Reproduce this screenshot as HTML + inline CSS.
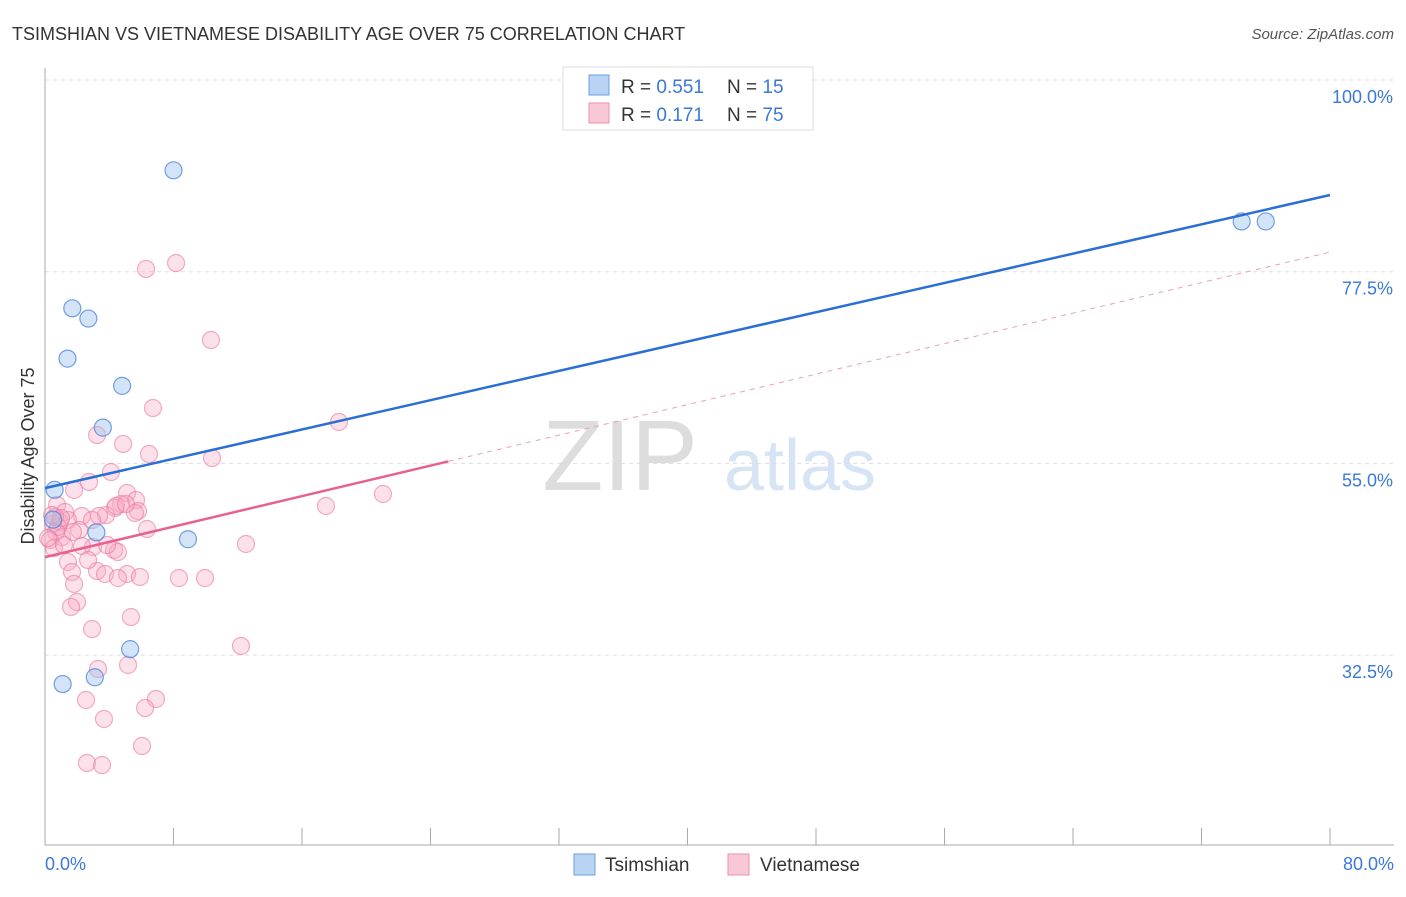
<!DOCTYPE html>
<html><head><meta charset="utf-8"><style>
body{margin:0;background:#fff;font-family:"Liberation Sans",sans-serif;}
svg text{font-family:"Liberation Sans",sans-serif;}
</style></head><body>
<svg width="1406" height="892" viewBox="0 0 1406 892">
<text x="12" y="40" font-size="18" fill="#333">TSIMSHIAN VS VIETNAMESE DISABILITY AGE OVER 75 CORRELATION CHART</text>
<text x="1394" y="39" font-size="15" fill="#555" text-anchor="end" font-style="italic">Source: ZipAtlas.com</text>
<g>
<text x="620" y="490" font-size="100" fill="#ddd" text-anchor="middle" font-family="Liberation Serif,serif">ZIP</text>
<text x="800" y="490" font-size="72" fill="#d6e4f5" text-anchor="middle">atlas</text>
</g>
<g id="grid"></g>
<g id="axes"></g>
<g id="marks"></g>
<text transform="translate(34,456) rotate(-90)" font-size="18" fill="#333" text-anchor="middle">Disability Age Over 75</text>
<g>
<rect x="563" y="67" width="250" height="63" fill="#fff" stroke="#ddd"/>
<rect x="589" y="75" width="20" height="20" fill="#b9d3f3" stroke="#6a9fe0"/>
<rect x="589" y="103" width="20" height="20" fill="#f9c8d7" stroke="#ef8fae"/>
<text x="621" y="93" font-size="19" fill="#333">R = <tspan fill="#3b78d8">0.551</tspan></text>
<text x="727" y="93" font-size="19" fill="#333">N = <tspan fill="#3b78d8">15</tspan></text>
<text x="621" y="121" font-size="19" fill="#333">R = <tspan fill="#3b78d8"> 0.171</tspan></text>
<text x="727" y="121" font-size="19" fill="#333">N = <tspan fill="#3b78d8">75</tspan></text>
</g>
<g>
<rect x="574" y="854" width="21" height="21" fill="#b9d3f3" stroke="#6a9fe0"/>
<text x="605" y="871" font-size="19" fill="#333">Tsimshian</text>
<rect x="728" y="854" width="21" height="21" fill="#f9c8d7" stroke="#ef8fae"/>
<text x="760" y="871" font-size="19" fill="#333">Vietnamese</text>
</g>
</svg>
<script>
const yTicks=[100,77.5,55,32.5];
const yTickLabels=["100.0%","77.5%","55.0%","32.5%"];
const xTickLabels=["0.0%","80.0%"];
const tsimX=[0.5,8.0,1.7,2.7,1.4,4.8,3.6,0.6,3.2,8.9,5.3,1.1,3.1,74.5,76.0];
const tsimY=[48.4,89.4,73.2,72.0,67.3,64.1,59.2,51.9,46.9,46.1,33.2,29.1,29.9,83.4,83.4];
const vietPx=[146,176,211,153,339,97,123,149,212,111,89,74,127,136,383,326,57,121,115,138,106,99,82,65,60,53,68,147,79,56,62,50,54,93,114,118,82,246,97,68,72,105,127,118,140,179,205,74,77,71,92,131,241,98,128,156,145,86,104,142,87,102,64,58,55,48,52,61,107,116,73,92,135,126,88];
const vietPy=[269,263,340,408,422,435,444,454,458,472,482,490,493,500,494,506,505,504,508,511,515,516,516,512,522,524,520,529,530,532,537,540,548,547,550,552,546,544,571,562,572,574,574,578,577,578,578,584,602,607,629,617,646,669,665,699,708,700,719,746,763,765,545,527,517,538,515,518,545,506,532,520,513,504,560];
const vietX=vietPx.map(p=>+((p-45)/1285*80).toFixed(2));
const vietY=vietPy.map(p=>+(100-(p-80)/8.52).toFixed(2));
const tsimTrend=[52.1,86.5];
const vietTrend=[44.0,79.8];
const vietSolidEnd=25.1;

const X=v=>45+v/80*1285;
const Y=v=>80+(100-v)*8.52;
const NS="http://www.w3.org/2000/svg";
function mk(parent,tag,attrs){const e=document.createElementNS(NS,tag);for(const k in attrs)e.setAttribute(k,attrs[k]);document.getElementById(parent).appendChild(e);return e;}

yTicks.forEach((t,i)=>{
 const l=mk('grid','line',{x1:45,x2:1394,y1:Y(t),y2:Y(t),stroke:'#ddd','stroke-dasharray':'4,4'});
 
 
 const tx=mk('grid','text',{x:1393,y:Y(t)+23,'font-size':18,fill:'#3b78d8','text-anchor':'end'});
 tx.textContent=yTickLabels[i];
 
 
});
const ax=mk('axes','line',{x1:45,x2:1394,y1:845,y2:845,stroke:'#aaa'});


const ay=mk('axes','line',{x1:45,x2:45,y1:68,y2:845,stroke:'#aaa'});


for(let i=0;i<=10;i++){
 const t=mk('axes','line',{x1:X(i*8),x2:X(i*8),y1:828,y2:845,stroke:'#aaa'});
 
 
}
[[0,'start',45],[80,'end',1394]].forEach((d,i)=>{
 const t=mk('axes','text',{x:d[2],y:870,'font-size':18,fill:'#3b78d8','text-anchor':d[1]});
 t.textContent=xTickLabels[i];
 
 
});
for(let i=0;i<vietX.length;i++){
 const c=mk('marks','circle',{cx:X(vietX[i]),cy:Y(vietY[i]),r:8.5,fill:'rgba(247,170,195,0.35)',stroke:'rgba(235,120,160,0.6)','stroke-width':1.2});
 
 
}
for(let i=0;i<tsimX.length;i++){
 const c=mk('marks','circle',{cx:X(tsimX[i]),cy:Y(tsimY[i]),r:8.5,fill:'rgba(160,195,240,0.45)',stroke:'rgba(70,130,215,0.75)','stroke-width':1.2});
 
 
}
const vy=x=>vietTrend[0]+(vietTrend[1]-vietTrend[0])*x/80;
const vd=mk('marks','line',{x1:X(vietSolidEnd),y1:Y(vy(vietSolidEnd)),x2:X(80),y2:Y(vietTrend[1]),stroke:'#eaa0b8','stroke-width':1,'stroke-dasharray':'5,5'});


const vs=mk('marks','line',{x1:X(0),y1:Y(vietTrend[0]),x2:X(vietSolidEnd),y2:Y(vy(vietSolidEnd)),stroke:'#e8608e','stroke-width':2.5});


const tl=mk('marks','line',{x1:X(0),y1:Y(tsimTrend[0]),x2:X(80),y2:Y(tsimTrend[1]),stroke:'#2a6fd6','stroke-width':2.5});


</script>
</body></html>
